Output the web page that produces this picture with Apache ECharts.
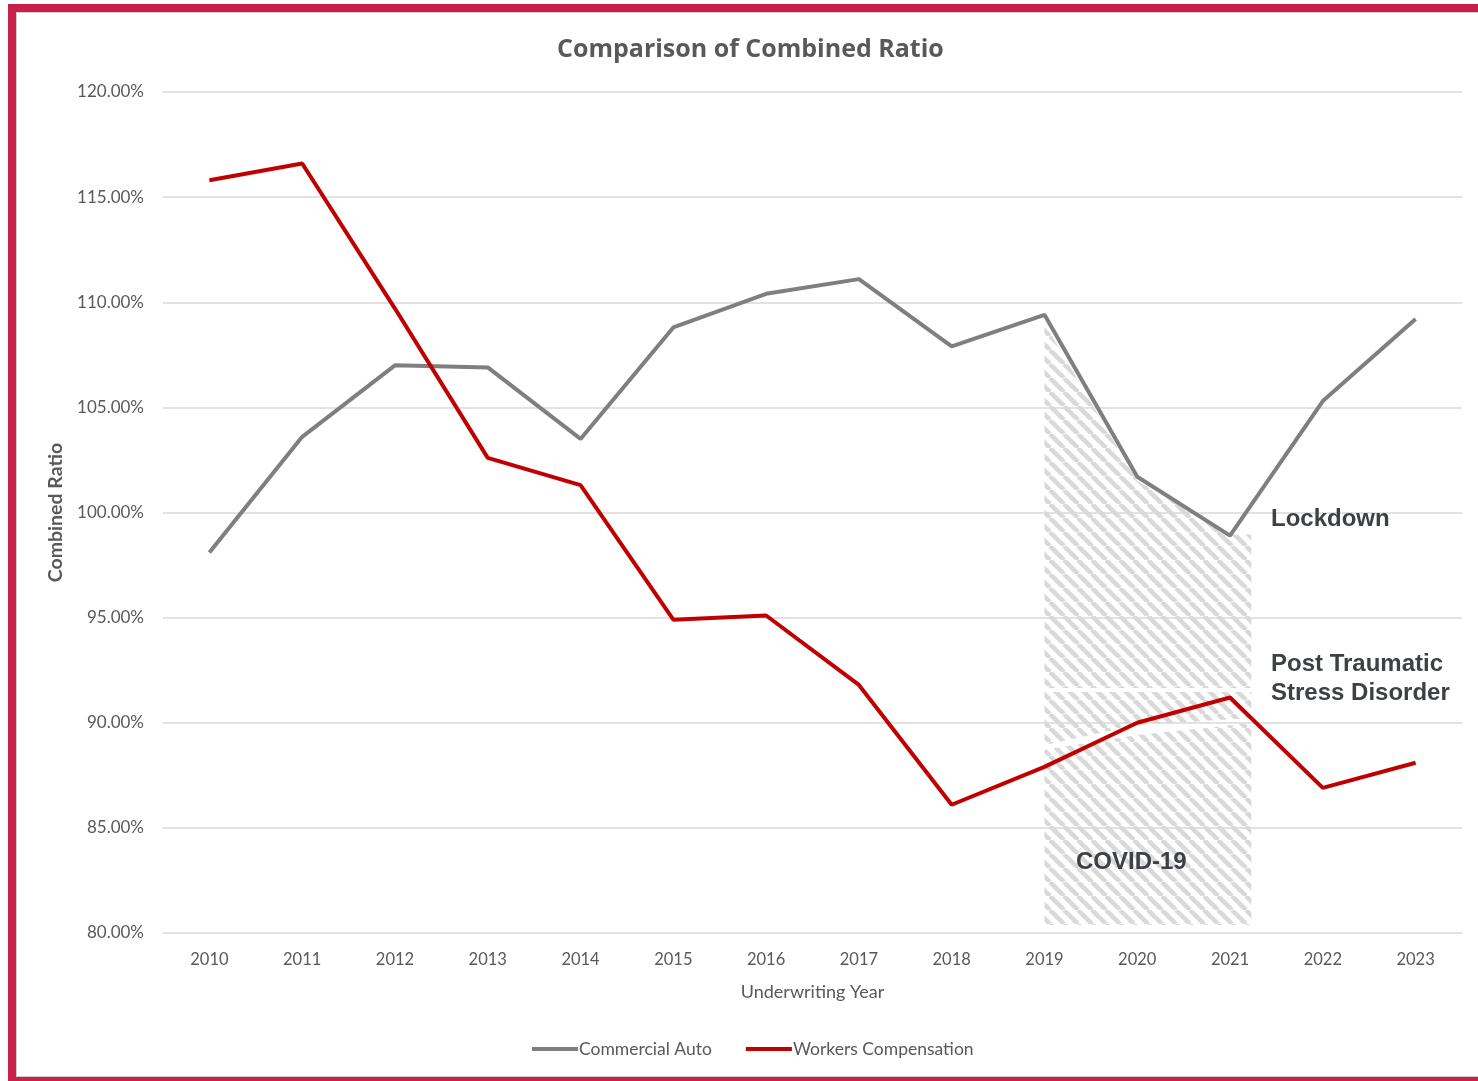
<!DOCTYPE html>
<html>
<head>
<meta charset="utf-8">
<script src="https://cdn.jsdelivr.net/npm/echarts@6/dist/echarts.min.js"></script>
<style>
  html, body { margin: 0; padding: 0; background: #fff; overflow: hidden; }
  #chart { position: absolute; left: 0; top: 0; width: 1478px; height: 1081px; }
  #frame { position: absolute; left: 8px; top: 4px; width: 1520px; height: 1081px; box-sizing: border-box;
           border: 8px solid #C8204A; box-shadow: inset 0 0 0 1px #cfcfcf; pointer-events: none; }
</style>
</head>
<body>
<div id="chart"></div>
<div id="frame"></div>
<script>
// ---- data ----
const years = ['2010','2011','2012','2013','2014','2015','2016','2017','2018','2019','2020','2021','2022','2023'];
const commercialAuto = [98.1, 103.6, 107.0, 106.9, 103.5, 108.8, 110.4, 111.1, 107.9, 109.4, 101.7, 98.9, 105.3, 109.2];
const workersComp = [115.8, 116.6, 109.7, 102.6, 101.3, 94.9, 95.1, 91.8, 86.1, 87.9, 90.0, 91.2, 86.9, 88.1];
const yTicks = [80, 85, 90, 95, 100, 105, 110, 115, 120];
// annotation regions (x = year index, y = ratio %)
const lockdownRegion = [[9, 109.0], [10, 101.5], [11, 98.95], [11.23, 98.95], [11.23, 91.65], [9, 91.65]];
const ptsdRegion = [[9, 91.46], [11.23, 91.46], [11.23, 90.22], [10, 89.89], [9, 88.94]];
const covidRegion = [[9, 88.72], [10, 89.42], [11.23, 89.99], [11.23, 80.38], [9, 80.38]];
const regions = [lockdownRegion, ptsdRegion, covidRegion];

// hatch pattern
const tile = document.createElement('canvas');
const S = 14;
tile.width = S; tile.height = S;
const tctx = tile.getContext('2d');
tctx.strokeStyle = '#d9d9d9';
tctx.lineWidth = 4.5;
for (const off of [-S, 0, S]) {
  tctx.beginPath();
  tctx.moveTo(off, 0);
  tctx.lineTo(off + S, S);
  tctx.stroke();
}

const chart = echarts.init(document.getElementById('chart'), null, { renderer: 'canvas' });
const labelColor = '#595959';
const font = 'Lato, "Open Sans", sans-serif';
const annFont = '"Liberation Sans", Arial, sans-serif';

chart.setOption({
  animation: false,
  backgroundColor: 'transparent',
  title: {
    text: 'Comparison of Combined Ratio',
    left: 552, top: 32,
    textStyle: { fontFamily: '"Open Sans", Lato, sans-serif', fontWeight: 'bold', fontSize: 25, color: labelColor }
  },
  grid: { left: 163, right: 16, top: 92, bottom: 148 },
  legend: {
    left: 527, top: 1035,
    icon: 'rect', itemWidth: 46, itemHeight: 4, itemGap: 34,
    textStyle: { fontFamily: font, fontSize: 17.5, color: labelColor, padding: [0, 0, 0, -4] },
    data: ['Commercial Auto', 'Workers Compensation']
  },
  xAxis: [{
    type: 'category', data: years, boundaryGap: true,
    name: 'Underwriting Year', nameLocation: 'middle', nameGap: 50,
    nameTextStyle: { fontFamily: font, fontSize: 18, color: labelColor },
    axisLine: { show: false }, axisTick: { show: false },
    axisLabel: { fontFamily: font, fontSize: 16.5, color: labelColor, margin: 18 }
  }, {
    type: 'value', min: -0.5, max: 13.5, show: false
  }],
  yAxis: {
    type: 'value', min: yTicks[0], max: yTicks[yTicks.length - 1], interval: 5,
    name: 'Combined Ratio', nameLocation: 'middle', nameGap: 97, nameRotate: 90,
    nameTextStyle: { fontFamily: font, fontSize: 19.5, fontWeight: 'bold', color: labelColor },
    axisLine: { show: false }, axisTick: { show: false },
    axisLabel: { fontFamily: font, fontSize: 17, color: labelColor, margin: 19,
                 formatter: v => v.toFixed(2) + '%' },
    splitLine: { lineStyle: { color: '#d9d9d9', width: 1.5 } }
  },
  series: [{
    type: 'custom', name: 'regions', xAxisIndex: 1, z: 1, silent: true,
    data: regions.map((r, i) => i),
    renderItem: (params, api) => {
      const poly = regions[params.dataIndex].map(p => api.coord(p));
      return {
        type: 'polygon',
        shape: { points: poly },
        style: { fill: { image: tile, repeat: 'repeat' }, stroke: null }
      };
    }
  }, {
    type: 'line', name: 'Commercial Auto', data: commercialAuto, z: 3,
    showSymbol: false, symbol: 'none',
    lineStyle: { color: '#7f7f7f', width: 4 }, itemStyle: { color: '#7f7f7f' }
  }, {
    type: 'line', name: 'Workers Compensation', data: workersComp, z: 3,
    showSymbol: false, symbol: 'none',
    lineStyle: { color: '#c00000', width: 4 }, itemStyle: { color: '#c00000' }
  }],
  graphic: [
    { type: 'text', left: 1271, top: 507, z: 10,
      style: { text: 'Lockdown', font: 'bold 24px ' + annFont, fill: '#3d4146' } },
    { type: 'text', left: 1271, top: 650, z: 10,
      style: { text: 'Post Traumatic\nStress Disorder', font: 'bold 24px ' + annFont, fill: '#3d4146', lineHeight: 29 } },
    { type: 'text', left: 1076, top: 850, z: 10,
      style: { text: 'COVID-19', font: 'bold 24px ' + annFont, fill: '#3d4146' } }
  ]
});
</script>
</body>
</html>
